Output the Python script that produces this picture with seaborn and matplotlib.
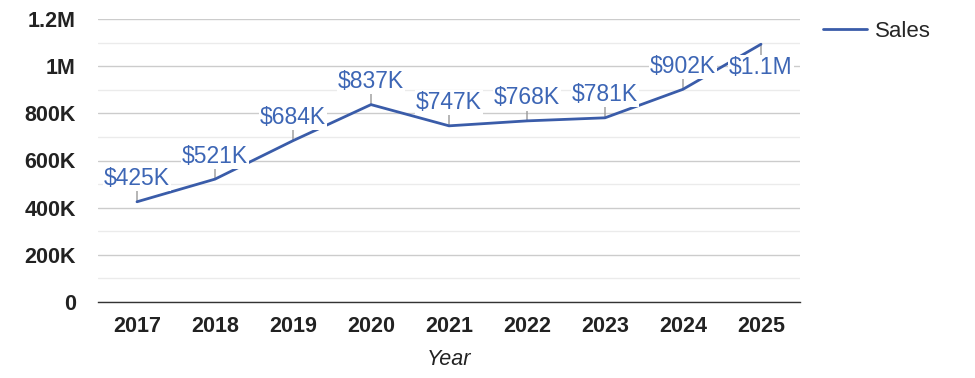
import matplotlib
matplotlib.use("Agg")
import matplotlib.pyplot as plt
import seaborn as sns
import pandas as pd
from matplotlib.ticker import FuncFormatter, MultipleLocator

# data
years = ["2017", "2018", "2019", "2020", "2021", "2022", "2023", "2024", "2025"]
sales = [425000, 521000, 684000, 837000, 747000, 768000, 781000, 902000, 1093000]
labels = ["$425K", "$521K", "$684K", "$837K", "$747K", "$768K", "$781K", "$902K", "$1.1M"]

sns.set_theme(style="white")
plt.rcParams["font.family"] = ["Liberation Sans", "DejaVu Sans"]

line_color = "#3a5ca9"
text_color = "#3d66b5"

df = pd.DataFrame({"Year": years, "Sales": sales})

fig = plt.figure(figsize=(9.75, 3.78), dpi=100)
ax = fig.add_axes([98 / 975, 1 - 302 / 378, 702 / 975, 283 / 378])

sns.lineplot(data=df, x="Year", y="Sales", ax=ax, color=line_color, lw=2, label="Sales", zorder=3)

ax.set_xlim(-0.5, len(years) - 0.5)
ax.set_ylim(0, 1200000)
ax.yaxis.set_major_locator(MultipleLocator(200000))
ax.yaxis.set_minor_locator(MultipleLocator(100000))

def fmt(v, pos):
    if v == 0:
        return "0"
    if v >= 1000000:
        return f"{v / 1e6:g}M"
    return f"{v / 1e3:g}K"

ax.yaxis.set_major_formatter(FuncFormatter(fmt))
ax.grid(axis="y", which="major", color="#cccccc", lw=1)
ax.grid(axis="y", which="minor", color="#ebebeb", lw=1)
ax.set_axisbelow(True)
for s in ["top", "right", "left"]:
    ax.spines[s].set_visible(False)
ax.spines["bottom"].set_color("#333333")
ax.spines["bottom"].set_linewidth(1)
ax.tick_params(axis="both", length=0, labelsize=15.5, labelcolor="#222222")
ax.tick_params(axis="y", pad=16)
ax.tick_params(axis="x", pad=10)
for t in ax.get_xticklabels() + ax.get_yticklabels():
    t.set_fontweight("bold")

ax.set_ylabel("")
ax.set_xlabel("Year", fontsize=15.5, fontstyle="italic", color="#222222", labelpad=9)

# data labels with short leader ticks
for i, (v, lab) in enumerate(zip(sales, labels)):
    d = -1 if i == len(sales) - 1 else 1
    ax.annotate("", xy=(i, v), xytext=(0, 11 * d), textcoords="offset pixels",
                arrowprops=dict(arrowstyle="-", color="#999999", lw=1, shrinkA=0, shrinkB=0),
                zorder=2)
    ax.annotate(lab, xy=(i, v), xytext=(0, 23 * d), textcoords="offset pixels",
                ha="center", va="center", fontsize=16.5, color=text_color,
                bbox=dict(boxstyle="square,pad=0.05", fc="white", ec="none"),
                zorder=4, annotation_clip=False)

ax.legend(loc="upper left", bbox_to_anchor=(0.0313, 1.0), bbox_transform=fig.transFigure,
          frameon=False, fontsize=16, handlelength=2.0, handletextpad=0.35, borderaxespad=0,
          borderpad=0.3)
ax.get_legend().set_bbox_to_anchor((822 / 975 - 0.006, 1 - 14 / 378), transform=fig.transFigure)

fig.savefig("out.png", dpi=100)
